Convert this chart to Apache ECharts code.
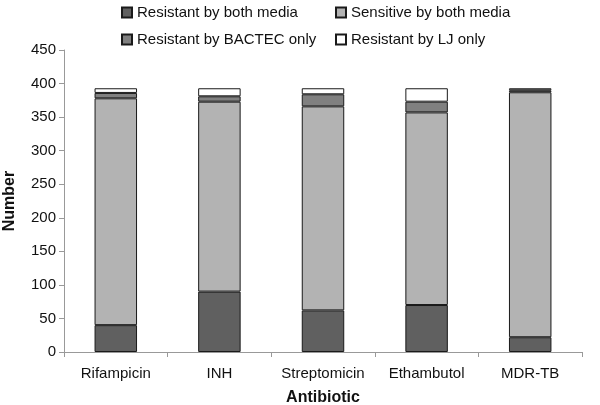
<!DOCTYPE html>
<html><head><meta charset="utf-8">
<script src="https://cdn.jsdelivr.net/npm/echarts@6/dist/echarts.min.js"></script>
<style>html,body{margin:0;padding:0;background:#fff}#c{width:600px;height:405px}</style>
</head><body><div id="c"></div>
<script>
var categories = ['Rifampicin', 'INH', 'Streptomicin', 'Ethambutol', 'MDR-TB'];
var resistantBoth = [40, 90, 62, 70, 22];
var sensitiveBoth = [338, 283, 304, 287, 365];
var resistantBactec = [8, 8, 18, 16, 3];
var resistantLJ = [7, 12, 9, 20, 3];
var yTicks = [0, 50, 100, 150, 200, 250, 300, 350, 400, 450];

var font = 'Liberation Sans, Arial, sans-serif';
var border = {borderColor: '#1a1a1a', borderWidth: 1};
function s(name, data, color) {
  return {name: name, type: 'bar', stack: 'a', data: data, barWidth: '41%',
    itemStyle: Object.assign({color: color}, border)};
}
var legendText = {fontSize: 15, color: '#111', fontFamily: font};
var chart = echarts.init(document.getElementById('c'));
chart.setOption({
  animation: false,
  textStyle: {fontFamily: font},
  legend: [
    {orient: 'vertical', left: 116, top: 0, icon: 'rect', itemWidth: 10, itemHeight: 10, itemGap: 12,
     data: ['Resistant by both media', 'Resistant by BACTEC only'], textStyle: legendText},
    {orient: 'vertical', left: 330, top: 0, icon: 'rect', itemWidth: 10, itemHeight: 10, itemGap: 12,
     data: ['Sensitive by both media', 'Resistant by LJ only'], textStyle: legendText}
  ],
  grid: {left: 64, right: 18, top: 50, bottom: 53, containLabel: false, outerBoundsMode: 'none'},
  xAxis: {type: 'category', data: categories,
    name: 'Antibiotic', nameLocation: 'middle', nameGap: 38,
    nameTextStyle: {fontWeight: 'bold', fontSize: 16, color: '#111'},
    axisLine: {lineStyle: {color: '#999'}},
    axisTick: {show: true, interval: 0, alignWithLabel: false, length: 5, lineStyle: {color: '#999'}},
    axisLabel: {fontSize: 15, color: '#111', margin: 14, interval: 0, hideOverlap: false}},
  yAxis: {type: 'value', min: 0, max: 450, interval: 50,
    name: 'Number', nameLocation: 'middle', nameGap: 46,
    nameTextStyle: {fontWeight: 'bold', fontSize: 16, color: '#111'},
    axisLine: {show: true, lineStyle: {color: '#999'}},
    axisTick: {show: true, length: 5, lineStyle: {color: '#999'}},
    splitLine: {show: false},
    axisLabel: {fontSize: 15, color: '#111', margin: 8,
      formatter: function (v) { return yTicks.indexOf(v) >= 0 ? String(v) : ''; }}},
  series: [
    s('Resistant by both media', resistantBoth, '#606060'),
    s('Sensitive by both media', sensitiveBoth, '#b3b3b3'),
    s('Resistant by BACTEC only', resistantBactec, '#808080'),
    s('Resistant by LJ only', resistantLJ, '#ffffff')
  ]
});
</script></body></html>
